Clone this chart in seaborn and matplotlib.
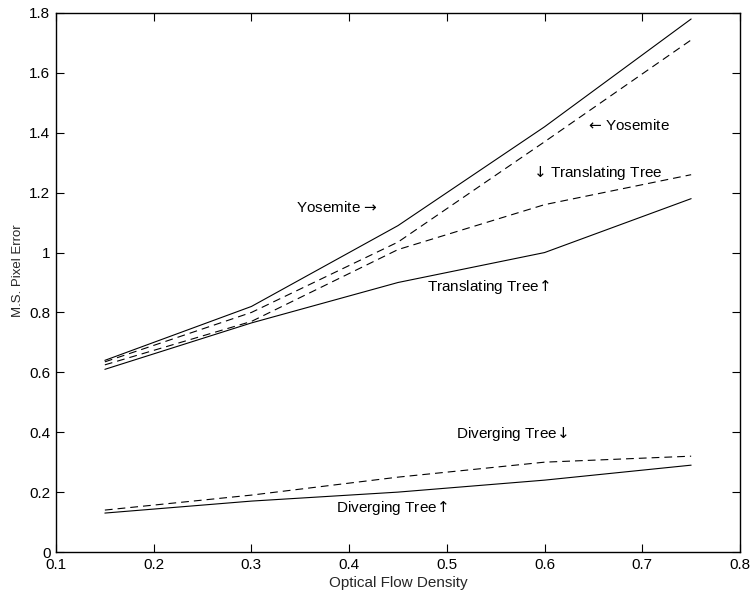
import matplotlib
matplotlib.use("Agg")
import matplotlib.pyplot as plt
import seaborn as sns
import pandas as pd

density = [0.15, 0.30, 0.45, 0.60, 0.75]
yosemite_solid = [0.64, 0.82, 1.09, 1.42, 1.78]
yosemite_dashed = [0.635, 0.80, 1.035, 1.37, 1.71]
translating_solid = [0.61, 0.765, 0.90, 1.00, 1.18]
translating_dashed = [0.625, 0.77, 1.01, 1.16, 1.26]
diverging_solid = [0.13, 0.17, 0.20, 0.24, 0.29]
diverging_dashed = [0.14, 0.19, 0.25, 0.30, 0.32]

xticks = [0.1, 0.2, 0.3, 0.4, 0.5, 0.6, 0.7, 0.8]
yticks = [0, 0.2, 0.4, 0.6, 0.8, 1, 1.2, 1.4, 1.6, 1.8]
xtick_labels = ["0.1", "0.2", "0.3", "0.4", "0.5", "0.6", "0.7", "0.8"]
ytick_labels = ["0", "0.2", "0.4", "0.6", "0.8", "1", "1.2", "1.4", "1.6", "1.8"]

annotations = [
    ("Yosemite $\u2192$", 0.388, 1.149),
    ("$\u2190$ Yosemite", 0.686, 1.423),
    ("$\u2193$ Translating Tree", 0.654, 1.267),
    ("Translating Tree$\u2191$", 0.542, 0.885),
    ("Diverging Tree$\u2193$", 0.566, 0.394),
    ("Diverging Tree$\u2191$", 0.444, 0.147),
]

sns.set_style("ticks")
plt.rcParams["font.family"] = ["Liberation Sans", "DejaVu Sans"]
plt.rcParams["mathtext.fontset"] = "dejavusans"

fig = plt.figure(figsize=(7.53, 5.96), dpi=100)
ax = fig.add_axes([56 / 753, 44 / 596, 684 / 753, 539 / 596])

series = [
    (yosemite_solid, "solid"),
    (yosemite_dashed, "dashed"),
    (translating_solid, "solid"),
    (translating_dashed, "dashed"),
    (diverging_solid, "solid"),
    (diverging_dashed, "dashed"),
]
for vals, style in series:
    df = pd.DataFrame({"x": density, "y": vals})
    ls = "-" if style == "solid" else (0, (7.0, 4.5))
    sns.lineplot(data=df, x="x", y="y", ax=ax, color="black", lw=0.8,
                 linestyle=ls, estimator=None, sort=False)

for txt, x, y in annotations:
    ax.text(x, y, txt, ha="center", va="center", fontsize=11, color="black")

ax.set_xlim(0.1, 0.8)
ax.set_ylim(0, 1.8)
ax.set_xticks(xticks)
ax.set_xticklabels(xtick_labels)
ax.set_yticks(yticks)
ax.set_yticklabels(ytick_labels)
ax.tick_params(direction="in", length=6, width=0.8, top=True, right=True,
               labelsize=11, pad=4, colors="black")
for sp in ax.spines.values():
    sp.set_visible(True)
    sp.set_linewidth(1.0)
    sp.set_color("black")
ax.set_xlabel("Optical Flow Density", fontsize=11)
ax.set_ylabel("M.S. Pixel Error", fontsize=9.5)
ax.xaxis.set_label_coords(0.501, -0.0575)
ax.xaxis.label.set_verticalalignment("center")
ax.yaxis.set_label_coords(-0.0556, 0.521)
ax.yaxis.label.set_verticalalignment("center")

fig.savefig("out.png", dpi=100)
